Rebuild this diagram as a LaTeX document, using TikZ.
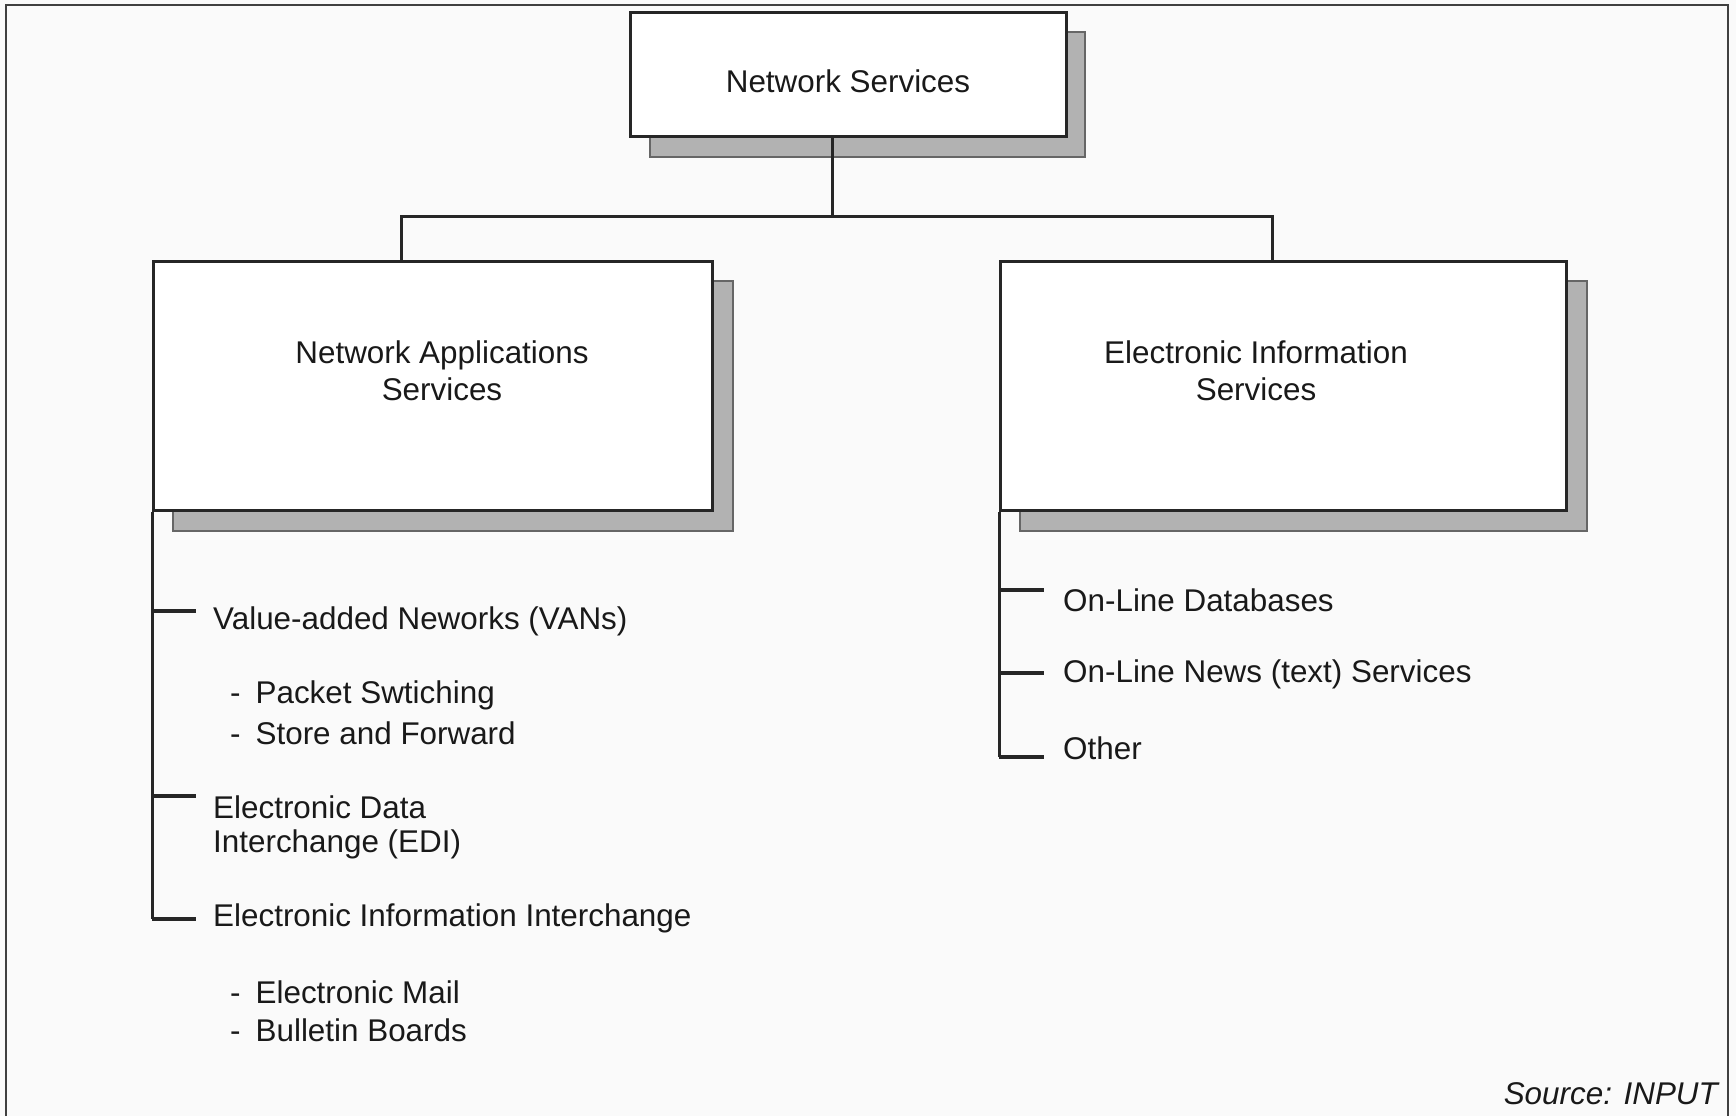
\documentclass[tikz,border=0pt]{standalone}
\usepackage{fontspec}
\setmainfont{Liberation Sans}
\begin{document}
\begin{tikzpicture}[x=1pt,y=-1pt,
  txt/.style={font=\fontsize{31.4}{37.2}\selectfont, inner sep=0pt, text=black!90},
  boxstyle/.style={draw=black!85, line width=3pt, fill=white},
  shadowstyle/.style={draw=black!60, line width=1.2pt, fill=black!30},
  ln/.style={draw=black!85, line width=3pt},
  tick/.style={draw=black!85, line width=3.6pt},
  frame/.style={draw=black!75, line width=2.6pt}]
\fill[black!2] (0,0) rectangle (1736,1116);
\useasboundingbox (0,0) rectangle (1736,1116);
% outer frame
\draw[frame] (6,1116) -- (6,5) -- (1728,5) -- (1728,1116);
% shadows
\path[shadowstyle] (650,32) rectangle (1085,157);
\path[shadowstyle] (173,281) rectangle (733,531);
\path[shadowstyle] (1020,281) rectangle (1587,531);
% boxes
\node[boxstyle, minimum width=436pt, minimum height=124pt, anchor=north west, inner sep=0pt] (top) at (629,11) {};
\node[txt] at (848,81) {Network Services};
\node[boxstyle, minimum width=559pt, minimum height=249pt, anchor=north west, inner sep=0pt] (nas) at (152,260) {};
\node[txt, align=center] at (442,371) {Network Applications\\Services};
\node[boxstyle, minimum width=566pt, minimum height=249pt, anchor=north west, inner sep=0pt] (eis) at (999,260) {};
\node[txt, align=center] at (1256,371) {Electronic Information\\Services};
% tree connectors
\coordinate (jt) at (832,216);
\coordinate (jl) at (401,216);
\coordinate (jr) at (1272,216);
\draw[ln] (top.south -| jt) -- (jt);
\draw[ln] (jl |- nas.north) -- (jl) -- (jr) -- (jr |- eis.north);
% left list
\coordinate (l1) at (196,611);
\coordinate (l2) at (196,796);
\coordinate (l3) at (196,919);
\draw[ln] (nas.south west) -- (nas.south west |- l3);
\draw[tick] (nas.south west |- l3) -- (l3);
\draw[tick] (nas.south west |- l1) -- (l1);
\draw[tick] (nas.south west |- l2) -- (l2);
\node[txt, anchor=west] (v1) at (213,621) {Value-added Neworks (VANs)};
\node[txt, anchor=west] (v1a) at (230,695) {-\hspace{15pt}Packet Swtiching};
\node[txt, anchor=west] (v1b) at (230,733) {-\hspace{15pt}Store and Forward};
\node[txt, anchor=west] (v2a) at (213,807) {Electronic Data};
\node[txt, anchor=west] (v2b) at (213,844) {Interchange (EDI)};
\node[txt, anchor=west] (v3) at (213,918) {Electronic Information Interchange};
\node[txt, anchor=west] (v3a) at (230,992) {-\hspace{15pt}Electronic Mail};
\node[txt, anchor=west] (v3b) at (230,1030) {-\hspace{15pt}Bulletin Boards};
% right list
\coordinate (r1) at (1044,590);
\coordinate (r2) at (1044,673);
\coordinate (r3) at (1044,757);
\draw[ln] (eis.south west) -- (eis.south west |- r3);
\draw[tick] (eis.south west |- r3) -- (r3);
\draw[tick] (eis.south west |- r1) -- (r1);
\draw[tick] (eis.south west |- r2) -- (r2);
\node[txt, anchor=west] (w1) at (1063,600) {On-Line Databases};
\node[txt, anchor=west] (w2) at (1063,674) {On-Line News (text) Services};
\node[txt, anchor=west] (w3) at (1063,748) {Other};
% source
\node[txt, anchor=east, font=\fontsize{31.4}{37.2}\selectfont\itshape] (src) at (1718,1094) {Source: INPUT};
\end{tikzpicture}
\end{document}
